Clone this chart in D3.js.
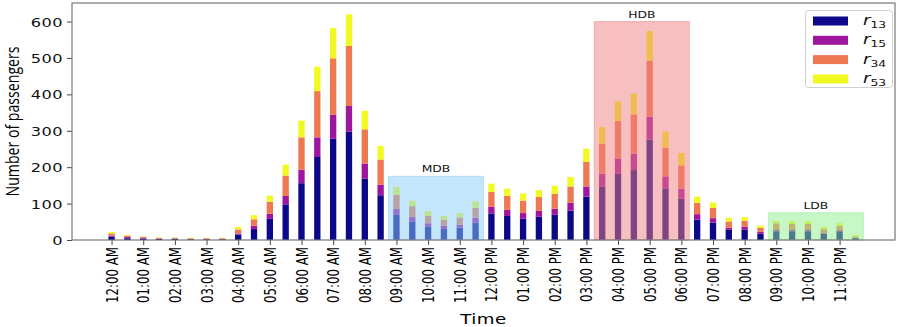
<!DOCTYPE html>
<html><head><meta charset="utf-8">
<script src="https://cdn.jsdelivr.net/npm/d3@7/dist/d3.min.js"></script>
<style>body{margin:0;background:#fff}svg{display:block}</style>
</head><body>
<svg id="chart" width="899" height="327"></svg>
<script>
// ---- data ----
const slots = ["00:00","00:30","01:00","01:30","02:00","02:30","03:00","03:30","04:00","04:30","05:00","05:30",
  "06:00","06:30","07:00","07:30","08:00","08:30","09:00","09:30","10:00","10:30","11:00","11:30",
  "12:00","12:30","13:00","13:30","14:00","14:30","15:00","15:30","16:00","16:30","17:00","17:30",
  "18:00","18:30","19:00","19:30","20:00","20:30","21:00","21:30","22:00","22:30","23:00","23:30"];
const r13 = [9,5,4,3,3,2,2,2,15,30,58,98,156,228,278,298,168,123,69,51,36,30,34,48,73,66,59,64,69,81,119,146,183,192,276,142,113,56,48,28,29,17,24,24,24,17,22,5];
const r15 = [3,3,2,1,1,1,1,1,3,9,14,23,37,54,66,70,42,29,16,12,10,9,8,13,18,17,15,16,17,21,28,36,41,45,63,33,28,15,12,6,8,6,5,5,5,3,5,1];
const r34 = [6,4,3,2,2,2,2,2,11,18,33,56,89,127,155,165,94,69,39,30,20,16,20,27,41,38,34,38,41,45,68,83,103,108,154,79,64,31,28,17,16,10,17,15,15,10,12,4];
const r53 = [4,2,1,1,1,1,1,1,7,11,17,30,46,67,83,87,51,37,22,15,13,11,12,18,23,20,20,19,22,26,36,45,54,57,81,44,34,17,15,10,10,6,6,8,8,6,7,4];
const seriesNames = ["r13","r15","r34","r53"];
const seriesLabels = ["13","15","34","53"];
const seriesColors = ["#0d0887","#9c179e","#ed7953","#f0f921"];
const hourLabels = ["12:00 AM","01:00 AM","02:00 AM","03:00 AM","04:00 AM","05:00 AM","06:00 AM","07:00 AM",
  "08:00 AM","09:00 AM","10:00 AM","11:00 AM","12:00 PM","01:00 PM","02:00 PM","03:00 PM",
  "04:00 PM","05:00 PM","06:00 PM","07:00 PM","08:00 PM","09:00 PM","10:00 PM","11:00 PM"];
const yTicks = [0,100,200,300,400,500,600];
const bandNames = ["MDB","HDB","LDB"];
const bandStart = [17.5,30.5,41.5];
const bandEnd = [23.5,36.5,47.5];
const bandTop = [175,600,75];
const bandColors = ["#87cefa","#f08080","#90ee90"];

// ---- layout ----
const SX = 1.3; // horizontal stretch of the original image
const L = 72, R = 895, T = 3, B = 240;
const svg = d3.select("#chart");
const x = d3.scaleLinear().domain([-2.5, 49.5]).range([L, R]);
const y = d3.scaleLinear().domain([0, 651]).range([B, T]);
const barW = 0.4;

const table = slots.map((s, i) => ({slot: s, i, r13: r13[i], r15: r15[i], r34: r34[i], r53: r53[i]}));
const stacked = d3.stack().keys(seriesNames)(table);

const gBars = svg.append("g");
stacked.forEach((layer, k) => {
  gBars.selectAll(null).data(layer).enter().append("rect")
    .attr("x", d => x(d.data.i - barW/2))
    .attr("width", d => x(d.data.i + barW/2) - x(d.data.i - barW/2))
    .attr("y", d => y(d[1]))
    .attr("height", d => y(d[0]) - y(d[1]))
    .attr("fill", seriesColors[k]);
});

// bands
bandNames.forEach((name, k) => {
  svg.append("rect")
    .attr("x", x(bandStart[k])).attr("width", x(bandEnd[k]) - x(bandStart[k]))
    .attr("y", y(bandTop[k])).attr("height", y(0) - y(bandTop[k]))
    .attr("fill", bandColors[k]).attr("fill-opacity", 0.5)
    .attr("stroke", bandColors[k]).attr("stroke-opacity", 0.5).attr("stroke-width", 1);
  svg.append("text")
    .attr("transform", `translate(${(x(bandStart[k]) + x(bandEnd[k]))/2},${y(bandTop[k]) - 4}) scale(${SX},1)`)
    .attr("text-anchor", "middle")
    .attr("font-family", "DejaVu Sans").attr("font-size", 9.5).attr("fill", "#111")
    .text(name);
});

// axes
const yAxis = svg.append("g").attr("transform", `translate(${L},0)`)
  .call(d3.axisLeft(y).tickValues(yTicks).tickSize(5).tickSizeOuter(0));
yAxis.select(".domain").remove();
yAxis.selectAll(".tick line").attr("stroke", "#444");
yAxis.selectAll(".tick text")
  .attr("x", 0).attr("dy", "0.36em")
  .attr("transform", `translate(-9,0) scale(${SX},1)`)
  .attr("font-family", "DejaVu Sans").attr("font-size", 12.5).attr("fill", "#111")
  .attr("letter-spacing", 0.3)
  .attr("text-anchor", "end");

const xAxis = svg.append("g").attr("transform", `translate(0,${B})`)
  .call(d3.axisBottom(x).tickValues(d3.range(0, 48, 2)).tickFormat(d => hourLabels[d/2]).tickSize(5).tickSizeOuter(0));
xAxis.select(".domain").remove();
xAxis.selectAll(".tick line").attr("stroke", "#444");
xAxis.selectAll(".tick text")
  .attr("x", 0).attr("y", 0).attr("dy", "0.36em")
  .attr("transform", `translate(0,7) scale(${SX},1) rotate(-90)`)
  .attr("font-family", "DejaVu Sans").attr("font-size", 11.8).attr("fill", "#000")
  .attr("text-anchor", "end");

// frame
svg.append("rect").attr("x", L).attr("y", T).attr("width", R - L).attr("height", B - T)
  .attr("fill", "none").attr("stroke", "#777").attr("stroke-width", 1.2);

// axis titles
svg.append("text")
  .attr("transform", `translate(19,${(T+B)/2}) scale(${SX},1) rotate(-90)`)
  .attr("text-anchor", "middle")
  .attr("font-family", "Open Sans").attr("font-size", 14.5).attr("fill", "#000")
  .attr("textLength", 150).attr("lengthAdjust", "spacingAndGlyphs")
  .text("Number of passengers");
svg.append("text")
  .attr("transform", `translate(${(L+R)/2},324) scale(${SX},1)`)
  .attr("text-anchor", "middle")
  .attr("font-family", "DejaVu Sans").attr("font-size", 14).attr("fill", "#000")
  .attr("letter-spacing", 0.4)
  .text("Time");

// legend
const lg = svg.append("g");
lg.append("rect").attr("x", 805.5).attr("y", 10.5).attr("width", 87).attr("height", 77).attr("rx", 3)
  .attr("fill", "#fff").attr("fill-opacity", 0.8).attr("stroke", "#d0d0d0");
const rowY = [21, 40.3, 59.6, 79];
seriesNames.forEach((s, k) => {
  lg.append("rect").attr("x", 813).attr("y", rowY[k] - 4.5).attr("width", 35).attr("height", 9)
    .attr("fill", seriesColors[k]);
  const t = lg.append("text")
    .attr("transform", `translate(863,${rowY[k] + 4}) scale(${SX},1)`)
    .attr("font-family", "DejaVu Sans").attr("font-size", 14).attr("fill", "#111");
  t.append("tspan").attr("font-style", "italic").text("r");
  t.append("tspan").attr("font-size", 9.5).attr("dy", 3).text(seriesLabels[k]);
});
</script>
</body></html>
